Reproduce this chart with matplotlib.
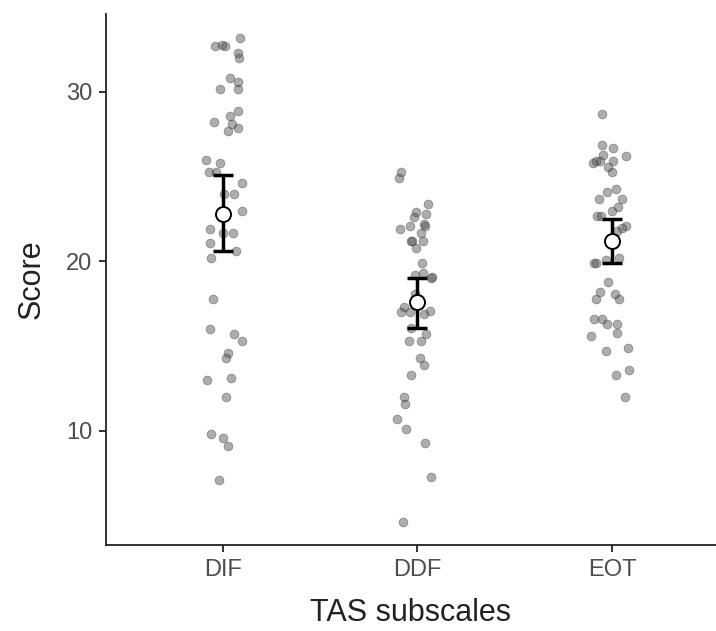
import matplotlib
matplotlib.use("Agg")
import matplotlib.pyplot as plt
import numpy as np

plt.rcParams['font.family'] = ['Liberation Sans', 'DejaVu Sans']

categories = ["DIF", "DDF", "EOT"]

dif_scores = [33.2, 32.7, 32.8, 32.7, 32.3, 32.0, 30.8, 30.6, 30.2, 30.2, 28.9, 28.6,
              28.2, 28.1, 27.9, 27.7, 26.0, 25.8, 25.3, 25.3, 24.6, 24.0, 24.0, 23.0,
              21.9, 21.7, 21.7, 21.1, 20.6, 20.2, 17.8, 16.0, 15.7, 15.3, 14.6, 14.3,
              13.0, 13.1, 12.0, 9.8, 9.6, 9.1, 7.1]
dif_jitter = [0.09, -0.04, -0.005, 0.01, 0.077, 0.082, 0.036, 0.077, -0.015, 0.077, 0.077, 0.036,
              -0.046, 0.046, 0.077, 0.026, -0.087, -0.015, -0.071, -0.036, 0.10, 0.005, 0.056, 0.097,
              -0.066, 0.0, 0.051, -0.066, 0.066, -0.061, -0.051, -0.066, 0.056, 0.10, 0.026, 0.015,
              -0.082, 0.041, 0.015, -0.061, 0.0, 0.026, -0.02]

ddf_scores = [25.3, 24.9, 23.4, 22.9, 22.8, 22.6, 22.1, 22.2, 22.1, 21.9, 21.7, 21.2,
              21.2, 21.2, 20.8, 19.9, 19.3, 19.2, 19.1, 19.0, 17.3, 17.0, 17.0, 16.9,
              17.1, 16.1, 15.7, 15.3, 15.3, 14.3, 13.9, 13.3, 12.0, 11.6, 10.7, 10.1,
              9.3, 7.3, 4.6, 18.1]
ddf_jitter = [-0.082, -0.093, 0.057, -0.005, 0.046, -0.015, -0.036, 0.036, 0.041, -0.087, 0.021, -0.031,
              -0.026, 0.031, -0.005, 0.026, 0.031, -0.01, 0.077, 0.072, -0.067, -0.082, -0.036, 0.036,
              0.067, -0.031, 0.046, -0.041, 0.021, 0.015, 0.036, -0.031, -0.067, -0.062, -0.103, -0.057,
              0.041, 0.072, -0.072, -0.01]

eot_scores = [28.7, 26.9, 26.7, 26.3, 26.2, 25.8, 25.9, 25.9, 25.9, 25.6, 25.3, 24.1,
              24.3, 23.7, 23.7, 23.2, 23.0, 22.7, 22.7, 22.1, 22.0, 21.8, 19.9, 19.9,
              20.1, 20.2, 18.8, 18.2, 18.1, 17.8, 17.8, 16.6, 16.6, 16.3, 16.3, 15.8,
              15.6, 14.9, 14.7, 13.6, 13.3, 12.0]
eot_jitter = [-0.051, -0.051, 0.005, -0.046, 0.072, -0.098, -0.082, -0.062, 0.005, -0.021, 0.0, -0.026,
              0.021, -0.067, 0.051, 0.031, 0.0, -0.077, -0.057, 0.072, 0.051, 0.026, -0.093, -0.082,
              -0.031, 0.036, -0.021, -0.062, 0.015, -0.082, 0.036, -0.093, -0.051, -0.026, 0.026, 0.026,
              -0.108, 0.082, -0.031, 0.087, 0.021, 0.067]

means = [22.8, 17.6, 21.2]
ci_low = [20.6, 16.1, 19.9]
ci_high = [25.1, 19.0, 22.5]

y_ticks = [10, 20, 30]

fig = plt.figure(figsize=(7.16, 6.31), dpi=100)
ax = fig.add_axes([106/716, 1 - 545/631, 1 - 106/716, (545 - 14)/631])

all_scores = [dif_scores, ddf_scores, eot_scores]
all_jitter = [dif_jitter, ddf_jitter, eot_jitter]
for i, (sc, jt) in enumerate(zip(all_scores, all_jitter)):
    xs = i + np.array(jt)
    ax.scatter(xs, sc, s=40, color='#4a4a4a', alpha=0.45, edgecolors='#3a3a3a',
               linewidths=0.6, zorder=2)

x = np.arange(len(categories))
m = np.array(means)
yerr = np.vstack([m - np.array(ci_low), np.array(ci_high) - m])
ax.errorbar(x, m, yerr=yerr, fmt='none', ecolor='black', elinewidth=2.5,
            capsize=7, capthick=2.5, zorder=3)
ax.plot(x, m, 'o', markersize=10.8, markerfacecolor='white', markeredgecolor='black',
        markeredgewidth=1.4, zorder=4)

ax.set_xlim(-0.6, 2.535)
ax.set_ylim(3.27, 34.6)
ax.set_xticks(x)
ax.set_xticklabels(categories)
ax.set_yticks(y_ticks)

for s in ['top', 'right']:
    ax.spines[s].set_visible(False)
for s in ['left', 'bottom']:
    ax.spines[s].set_linewidth(1.3)
    ax.spines[s].set_color('#222222')
ax.tick_params(axis='both', length=5, width=1.3, color='#222222', labelsize=17,
               labelcolor='#4d4d4d', pad=5)
ax.set_xlabel("TAS subscales", fontsize=22, color='#222222', labelpad=12)
ax.set_ylabel("Score", fontsize=22, color='#222222', labelpad=14)

fig.savefig("out.png", dpi=100)
